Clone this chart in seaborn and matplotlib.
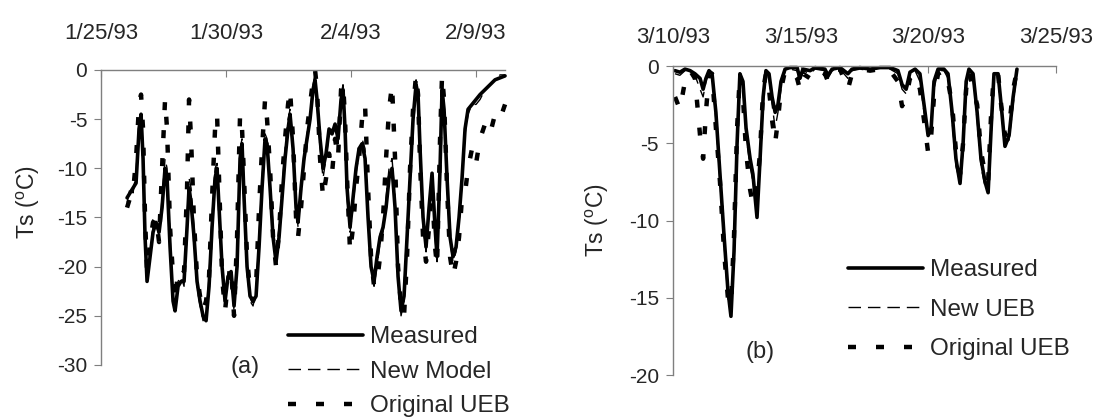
import numpy as np
import pandas as pd
import matplotlib
matplotlib.use("Agg")
import matplotlib.pyplot as plt
import seaborn as sns
from matplotlib.lines import Line2D

# ---- panel (a): days after 1/25/93 ----
days_a = [1.04, 1.16, 1.28, 1.40, 1.52, 1.60, 1.68, 1.76, 1.84, 1.96,
          2.08, 2.20, 2.32, 2.44, 2.56, 2.64, 2.76, 2.88, 2.96, 3.08,
          3.20, 3.32, 3.44, 3.52, 3.60, 3.72, 3.84, 3.96, 4.08, 4.20,
          4.32, 4.44, 4.56, 4.64, 4.72, 4.84, 4.96, 5.08, 5.20, 5.32,
          5.44, 5.56, 5.64, 5.72, 5.84, 5.96, 6.08, 6.20, 6.32, 6.44,
          6.56, 6.64, 6.76, 6.88, 7.00, 7.12, 7.24, 7.36, 7.48, 7.56,
          7.68, 7.80, 7.88, 8.00, 8.12, 8.24, 8.36, 8.48, 8.56, 8.64,
          8.76, 8.88, 9.00, 9.12, 9.24, 9.36, 9.48, 9.60, 9.68, 9.76,
          9.84, 9.96, 10.08, 10.20, 10.32, 10.44, 10.56, 10.68, 10.80, 10.92,
          11.04, 11.16, 11.28, 11.40, 11.52, 11.64, 11.76, 11.88, 12.00, 12.12,
          12.24, 12.36, 12.48, 12.60, 12.68, 12.76, 12.88, 13.00, 13.12, 13.24,
          13.36, 13.44, 13.56, 13.64, 13.72, 13.84, 13.96, 14.08, 14.20, 14.32,
          14.44, 14.56, 14.68, 14.84, 15.00, 15.16, 15.36, 15.56, 15.76, 15.96,
          16.16]

measured_a = [-13.0, -12.5, -12.0, -11.5, -6.0, -4.5, -9.0, -17.0, -21.5, -19.0,
              -16.5, -15.5, -16.5, -14.0, -10.0, -11.0, -18.0, -23.5, -24.5, -22.0,
              -21.5, -21.5, -16.0, -12.0, -13.5, -17.0, -21.5, -23.5, -25.0, -25.5,
              -22.0, -16.0, -11.0, -10.0, -14.0, -20.0, -23.5, -21.0, -20.5, -24.0,
              -20.0, -9.0, -7.5, -13.0, -20.0, -23.0, -23.5, -23.0, -18.0, -12.0,
              -7.0, -7.5, -12.0, -17.0, -19.5, -17.0, -13.0, -9.0, -6.0, -4.5,
              -8.0, -14.0, -15.5, -12.0, -9.0, -7.0, -5.0, -2.0, -1.0, -3.0,
              -7.0, -10.0, -8.5, -6.0, -6.5, -5.5, -7.0, -3.0, -2.0, -6.0,
              -12.0, -16.0, -13.0, -10.0, -8.0, -7.5, -9.0, -15.0, -20.0, -21.5,
              -19.0, -17.0, -16.0, -14.0, -11.0, -10.0, -14.0, -21.0, -24.5, -23.0,
              -17.0, -11.0, -5.0, -1.5, -2.5, -8.0, -15.0, -18.0, -14.0, -10.5,
              -16.0, -19.0, -10.0, -2.0, -4.0, -11.0, -17.0, -19.0, -18.0, -15.0,
              -11.0, -6.0, -4.0, -3.5, -3.0, -2.5, -2.0, -1.5, -1.0, -0.8,
              -0.6]

new_model_a = [-13.5, -12.0, -12.5, -10.5, -5.0, -4.5, -8.0, -16.0, -20.5, -18.5,
               -16.0, -15.5, -17.0, -13.0, -9.0, -10.0, -17.0, -23.0, -24.0, -21.5,
               -21.0, -22.0, -15.0, -11.0, -12.0, -16.0, -22.0, -24.0, -25.5, -25.0,
               -21.0, -15.0, -10.0, -9.5, -13.0, -20.5, -24.0, -20.5, -21.0, -24.5,
               -19.0, -8.0, -7.0, -12.0, -20.5, -23.5, -24.0, -22.5, -17.0, -11.0,
               -6.5, -7.0, -11.0, -16.0, -18.5, -16.0, -12.0, -8.0, -5.0, -4.0,
               -7.5, -13.5, -16.0, -12.5, -9.5, -6.5, -4.5, -1.5, -0.5, -3.5,
               -8.0, -11.0, -9.0, -6.5, -6.0, -6.0, -7.5, -2.5, -1.5, -6.5,
               -13.0, -16.5, -14.0, -10.5, -8.5, -7.0, -8.0, -14.0, -20.5, -22.0,
               -20.0, -17.5, -16.5, -13.0, -10.0, -9.0, -13.0, -21.5, -25.0, -23.5,
               -17.5, -10.5, -4.5, -1.0, -2.0, -8.5, -16.0, -18.5, -14.5, -11.0,
               -17.0, -19.5, -9.0, -1.5, -3.5, -11.5, -17.5, -19.5, -18.5, -15.5,
               -11.5, -6.5, -4.5, -3.5, -3.5, -3.0, -2.0, -1.5, -1.0, -0.5,
               -0.5]

original_a = [-14.0, -13.0, -12.5, -9.0, -3.5, -2.5, -6.0, -15.0, -20.5, -17.5,
              -15.5, -15.0, -17.5, -10.0, -3.0, -6.0, -16.0, -21.0, -23.5, -20.5,
              -20.0, -20.5, -12.0, -3.0, -7.0, -15.5, -21.0, -23.0, -24.5, -23.5,
              -21.0, -13.0, -6.0, -4.5, -11.0, -21.0, -24.5, -21.5, -20.0, -25.0,
              -17.0, -4.5, -6.0, -11.0, -19.0, -22.5, -23.5, -22.0, -14.0, -8.0,
              -3.0, -5.0, -10.0, -17.0, -20.0, -16.5, -11.0, -7.0, -3.5, -2.0,
              -7.0, -15.0, -17.0, -14.0, -10.0, -6.0, -3.5, -1.0, 0.0, -2.0,
              -9.0, -13.0, -11.0, -8.5, -10.5, -7.0, -9.0, -2.0, -1.3, -5.0,
              -11.0, -18.5, -16.0, -12.0, -9.0, -5.0, -3.5, -12.0, -19.0, -22.0,
              -21.5, -19.0, -15.0, -9.0, -4.0, -1.5, -9.0, -20.0, -24.0, -25.0,
              -19.0, -10.0, -4.0, -0.5, -2.5, -9.5, -17.0, -19.5, -16.0, -12.0,
              -18.0, -20.0, -7.0, -0.5, -3.0, -12.0, -19.0, -21.0, -19.5, -17.0,
              -13.0, -12.5, -10.0, -8.0, -9.5, -7.0, -5.5, -6.5, -4.5, -5.0,
              -3.5]

date_ticks_a = [0, 5, 10, 15]
date_labels_a = ["1/25/93", "1/30/93", "2/4/93", "2/9/93"]

# ---- panel (b): days after 3/10/93 ----
days_b = [0.08, 0.27, 0.47, 0.67, 0.86, 1.06, 1.18, 1.29, 1.41, 1.53,
          1.68, 1.84, 2.00, 2.15, 2.27, 2.39, 2.51, 2.62, 2.74, 2.86,
          3.02, 3.13, 3.29, 3.41, 3.53, 3.64, 3.76, 3.88, 4.00, 4.11,
          4.23, 4.39, 4.58, 4.86, 4.97, 5.09, 5.37, 5.56, 5.95, 6.07,
          6.23, 6.54, 6.85, 7.01, 7.32, 7.72, 8.11, 8.50, 8.81, 8.97,
          9.13, 9.28, 9.48, 9.67, 9.83, 9.99, 10.11, 10.22, 10.38, 10.61,
          10.77, 10.93, 11.08, 11.24, 11.36, 11.48, 11.59, 11.75, 11.91, 12.06,
          12.22, 12.34, 12.46, 12.57, 12.73, 12.85, 13.00, 13.16, 13.32, 13.47]

measured_b = [-0.3, -0.4, -0.2, -0.3, -0.5, -0.8, -1.5, -0.8, -0.3, -0.5,
              -3.0, -7.0, -11.0, -14.5, -16.2, -12.0, -5.0, -0.5, -1.0, -4.0,
              -6.0, -7.0, -9.8, -6.0, -2.0, -0.3, -0.5, -2.0, -3.0, -2.5,
              -1.0, -0.2, -0.1, -0.1, -0.8, -0.2, -0.3, -0.1, -0.2, -0.6,
              -0.2, -0.1, -0.5, -0.2, -0.1, -0.2, -0.1, -0.1, -0.3, -1.2,
              -1.5, -0.4, -0.2, -0.5, -2.5, -4.5, -4.0, -1.0, -0.2, -0.2,
              -0.5, -3.0, -6.0, -7.6, -5.0, -1.0, -0.2, -0.5, -3.0, -6.0,
              -7.5, -8.2, -4.0, -0.5, -0.5, -2.5, -5.2, -4.5, -2.0, -0.2]

new_ueb_b = [-0.5, -0.6, -0.3, -0.4, -0.6, -1.5, -2.0, -1.0, -0.3, -0.5,
             -3.5, -7.5, -11.5, -15.0, -16.0, -12.5, -5.5, -0.8, -1.5, -4.5,
             -6.5, -7.5, -9.0, -6.5, -2.5, -0.5, -0.8, -2.5, -4.0, -3.0,
             -1.5, -0.3, -0.2, -0.3, -1.0, -0.3, -0.5, -0.2, -0.3, -0.8,
             -0.3, -0.2, -0.8, -0.3, -0.2, -0.3, -0.1, -0.2, -0.5, -1.5,
             -1.8, -0.5, -0.3, -1.0, -3.0, -4.5, -4.0, -1.5, -0.3, -0.3,
             -0.8, -3.5, -6.5, -7.5, -5.5, -1.5, -0.3, -0.8, -3.5, -6.5,
             -7.8, -8.0, -4.5, -0.8, -0.8, -3.0, -5.0, -4.8, -2.5, -0.3]

original_b = [-2.0, -2.8, -1.0, -0.3, -0.8, -4.5, -6.0, -3.0, -0.5, -0.5,
              -4.0, -7.5, -12.0, -15.0, -15.5, -11.0, -4.0, -0.5, -2.0, -5.5,
              -8.0, -9.0, -8.0, -5.5, -1.5, -0.5, -1.5, -3.5, -5.0, -3.5,
              -1.5, -0.3, -0.2, -0.8, -1.5, -0.5, -0.8, -0.2, -0.5, -1.0,
              -0.3, -0.2, -1.5, -0.5, -0.2, -0.3, -0.2, -0.3, -1.0, -2.6,
              -2.0, -0.8, -0.5, -1.5, -3.5, -5.6, -4.5, -2.0, -0.5, -0.3,
              -1.0, -2.5, -5.5, -7.0, -5.0, -1.5, -0.3, -1.5, -2.5, -5.5,
              -7.0, -7.5, -3.0, -0.5, -0.5, -2.5, -4.5, -4.0, -1.5, -0.3]

date_ticks_b = [0, 5, 10, 15]
date_labels_b = ["3/10/93", "3/15/93", "3/20/93", "3/25/93"]

sns.set_style("white")
plt.rcParams["font.family"] = ["Liberation Sans", "DejaVu Sans"]
plt.rcParams["mathtext.fontset"] = "custom"
plt.rcParams["mathtext.rm"] = "Liberation Sans"
plt.rcParams["axes.unicode_minus"] = False

AXIS_GREY = "#7f7f7f"
STYLES = {
    "measured": dict(color="black", lw=2.6, ls="-"),
    "new": dict(color="black", lw=1.0, ls=(0, (9, 5))),
    "orig": dict(color="black", lw=3.2, ls=(0, (1.8, 4.5))),
}


def draw_panel(ax, days, meas, new, orig, ymin, ticks, labels, xmax, label_pad):
    df = pd.DataFrame({"day": days, "meas": meas, "new": new, "orig": orig})
    sns.lineplot(data=df, x="day", y="meas", ax=ax, clip_on=False,
                 **STYLES["measured"])
    sns.lineplot(data=df, x="day", y="new", ax=ax, clip_on=False,
                 **STYLES["new"])
    sns.lineplot(data=df, x="day", y="orig", ax=ax, clip_on=False,
                 **STYLES["orig"])

    ax.set_xlim(0, xmax)
    ax.set_ylim(ymin, 0)
    ax.set_yticks(np.arange(ymin, 1, 5))
    ax.set_xticks(ticks)
    ax.set_xticklabels(labels)
    ax.xaxis.tick_top()
    ax.set_xlabel("")
    ax.set_ylabel("")

    for side in ["bottom", "right"]:
        ax.spines[side].set_visible(False)
    for side in ["top", "left"]:
        ax.spines[side].set_color(AXIS_GREY)
        ax.spines[side].set_linewidth(1.0)
    ax.tick_params(axis="x", direction="in", length=5, color=AXIS_GREY,
                   labelsize=16, pad=label_pad)
    ax.tick_params(axis="y", direction="out", length=5, color=AXIS_GREY,
                   labelsize=15, pad=5, left=True)


fig = plt.figure(figsize=(11.02, 4.2), dpi=100)
ax_a = fig.add_axes([0.0917, 0.131, 0.3666, 0.7024])
ax_b = fig.add_axes([0.6107, 0.1071, 0.3476, 0.7357])

draw_panel(ax_a, days_a, measured_a, new_model_a, original_a, -30,
           date_ticks_a, date_labels_a, 16.16, 19)
draw_panel(ax_b, days_b, measured_b, new_ueb_b, original_b, -20,
           date_ticks_b, date_labels_b, 15, 13)

ylabel = r"Ts ($\mathregular{^{o}}$C)"
fig.text(28 / 1102, 1 - 202 / 420, ylabel, rotation=90, ha="center",
         va="center", fontsize=16.5)
fig.text(597 / 1102, 1 - 220 / 420, ylabel, rotation=90, ha="center",
         va="center", fontsize=16.5)

fig.text(245 / 1102, 1 - 367 / 420, "(a)", ha="center", va="center", fontsize=17)
fig.text(760 / 1102, 1 - 352 / 420, "(b)", ha="center", va="center", fontsize=17)


def make_handles():
    return [Line2D([], [], **STYLES["measured"]),
            Line2D([], [], **STYLES["new"]),
            Line2D([], [], **STYLES["orig"])]


leg_kw = dict(loc="upper left", bbox_transform=fig.transFigure, frameon=False,
              handlelength=3.1, handletextpad=0.28, borderpad=0,
              borderaxespad=0, fontsize=17.5)
ax_a.legend(make_handles(), ["Measured", "New Model", "Original UEB"],
            bbox_to_anchor=(288 / 1102, 1 - 326 / 420), labelspacing=0.52, **leg_kw)
ax_b.legend(make_handles(), ["Measured", "New UEB", "Original UEB"],
            bbox_to_anchor=(848 / 1102, 1 - 259 / 420), labelspacing=0.72, **leg_kw)

fig.savefig("out.png", dpi=100)
plt.close(fig)
